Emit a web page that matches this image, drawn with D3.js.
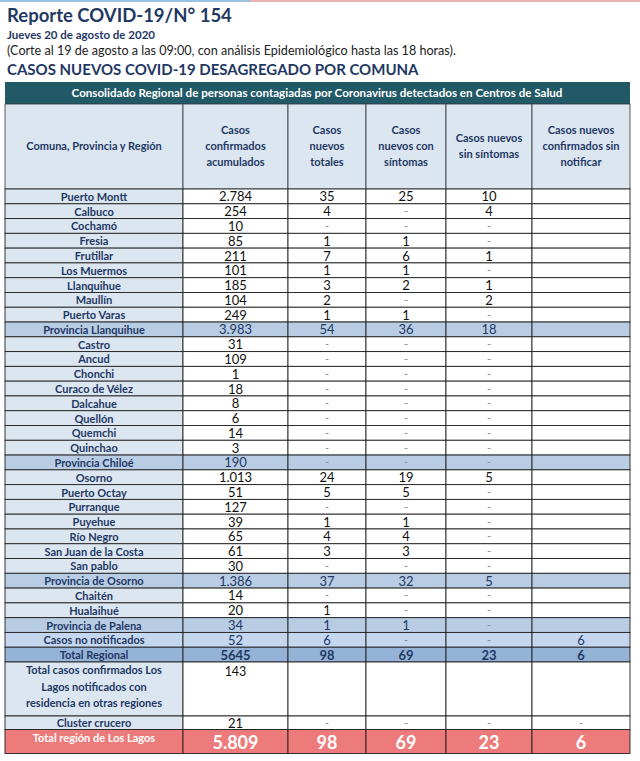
<!DOCTYPE html>
<html>
<head>
<meta charset="utf-8">
<script src="https://cdn.jsdelivr.net/npm/d3@7"></script>
<style>
  body { margin: 0; background: #fff; }
  svg text { font-family: Lato, "Noto Sans", sans-serif; }
</style>
</head>
<body>
<svg id="chart" width="640" height="761"></svg>
<script>
// data, null = "-", undefined = empty cell
var comunas = ["Puerto Montt","Calbuco","Cochamó","Fresia","Frutillar","Los Muermos","Llanquihue","Maullín","Puerto Varas","Provincia Llanquihue",
  "Castro","Ancud","Chonchi","Curaco de Vélez","Dalcahue","Quellón","Quemchi","Quinchao","Provincia Chiloé",
  "Osorno","Puerto Octay","Purranque","Puyehue","Río Negro","San Juan de la Costa","San pablo","Provincia de Osorno",
  "Chaitén","Hualaihué","Provincia de Palena","Casos no notificados","Total Regional"]
var tipo = ["c","c","c","c","c","c","c","c","c","p",
  "c","c","c","c","c","c","c","c","p",
  "c","c","c","c","c","c","c","p",
  "c","c","p","n","t"]
var acumulados = ["2.784","254","10","85","211","101","185","104","249","3.983",
  "31","109","1","18","8","6","14","3","190",
  "1.013","51","127","39","65","61","30","1.386",
  "14","20","34","52","5645"]
var nuevosTotales = [35,4,null,1,7,1,3,2,1,54, null,null,null,null,null,null,null,null,null,
  24,5,null,1,4,3,null,37, null,1,1,6,98]
var conSintomas = [25,null,null,1,6,1,2,null,1,36, null,null,null,null,null,null,null,null,null,
  19,5,null,1,4,3,null,32, null,null,1,null,69]
var sinSintomas = [10,4,null,null,1,null,1,2,null,18, null,null,null,null,null,null,null,null,null,
  5,null,null,null,null,null,null,5, null,null,null,null,23]
var sinNotificar = [undefined,undefined,undefined,undefined,undefined,undefined,undefined,undefined,undefined,undefined,
  undefined,undefined,undefined,undefined,undefined,undefined,undefined,undefined,undefined,
  undefined,undefined,undefined,undefined,undefined,undefined,undefined,undefined,
  undefined,undefined,undefined,6,6]

var headers = ["Comuna, Provincia y Región","Casos|confirmados|acumulados","Casos|nuevos|totales","Casos|nuevos con|síntomas","Casos nuevos|sin síntomas","Casos nuevos|confirmados sin|notificar"]
var otrasRegiones = {label: ["Total casos confirmados Los","Lagos  notificados con","residencia en otras regiones"], values: ["143", undefined, undefined, undefined, undefined]}
var cluster = {label: "Cluster crucero", values: ["21", null, null, null, null]}
var totalLagos = {label: "Total región de Los Lagos", values: ["5.809", 98, 69, 23, 6]}

var navy = "#1f3864"
var svg = d3.select("#chart")

// top stripe
svg.append("rect").attr("x",0).attr("y",0).attr("width",250).attr("height",2).attr("fill","#9dbfe0")
svg.append("rect").attr("x",250).attr("y",0).attr("width",390).attr("height",2).attr("fill","#eab3b3")

// titles
svg.append("text").attr("x",7).attr("y",22).attr("font-size",18.5).attr("font-weight","bold").attr("fill",navy).text("Reporte COVID-19/N° 154")
svg.append("text").attr("x",7).attr("y",39).attr("font-size",11.5).attr("font-weight","bold").attr("fill",navy).text("Jueves 20 de agosto de 2020")
svg.append("text").attr("x",7).attr("y",55).attr("font-size",12.6).attr("fill","#222").text("(Corte al 19 de agosto a las 09:00, con análisis Epidemiológico hasta las 18 horas).")
svg.append("text").attr("x",7).attr("y",75).attr("font-size",15).attr("font-weight","bold").attr("fill",navy).text("CASOS NUEVOS COVID-19 DESAGREGADO POR COMUNA")

// column layout
var colKeys = ["label","acum","tot","con","sin","notif"]
var colEdges = [5,183,288,366,446,532,630]
var x0 = d3.scaleOrdinal().domain(colKeys).range(colEdges.slice(0,6))
var x1 = d3.scaleOrdinal().domain(colKeys).range(colEdges.slice(1))
function cx(k) { return (x0(k) + x1(k)) / 2 }

var y = d3.scaleBand().domain(d3.range(comunas.length)).range([189,662])

var fills = {c: "#ffffff", p: "#b8cce4", n: "#c5d7ee", t: "#95b3d7"}
var labelFills = {c: "#dce6f1", p: "#b8cce4", n: "#c5d7ee", t: "#95b3d7"}

// band header
svg.append("rect").attr("x",5).attr("y",82).attr("width",625).attr("height",22).attr("fill","#215967")
svg.append("text").attr("x",317).attr("y",97).attr("text-anchor","middle").attr("font-size",11.6).attr("font-weight","bold")
  .attr("fill","#ffffff").text("Consolidado Regional de personas contagiadas por Coronavirus detectados en Centros de Salud")

// column headers
var hg = svg.append("g")
hg.selectAll("rect").data(colKeys).enter().append("rect")
  .attr("x", function(k){ return x0(k) }).attr("y",104)
  .attr("width", function(k){ return x1(k)-x0(k) }).attr("height",85)
  .attr("fill","#dce6f1").attr("stroke","#333").attr("stroke-width",0.8)
hg.selectAll("text").data(colKeys).enter().append("text")
  .attr("text-anchor","middle").attr("font-size",11).attr("font-weight","bold").attr("fill",navy)
  .each(function(k,i){
    var lines = headers[i].split("|")
    var t = d3.select(this)
    lines.forEach(function(l,j){
      t.append("tspan").attr("x",cx(k)).attr("y",150 + (j-(lines.length-1)/2)*16).text(l)
    })
  })

var columns = [acumulados, nuevosTotales, conSintomas, sinSintomas, sinNotificar]

function cellText(g, v, k, yy, color, bold, size) {
  if (v === undefined) return
  var isDash = v === null
  g.append("text").attr("x", cx(k)).attr("y", yy - (isDash ? 1 : 0)).attr("text-anchor","middle")
    .attr("font-size", isDash ? 11 : size).attr("font-weight", "bold")
    .attr("font-weight", bold ? "bold" : "normal")
    .attr("fill", isDash ? "#888" : color).text(isDash ? "-" : v)
}

// main rows
var rows = svg.append("g")
comunas.forEach(function(name,i){
  var g = rows.append("g")
  var t = tipo[i]
  var top = y(i), h = y.bandwidth()
  colKeys.forEach(function(k,j){
    g.append("rect").attr("x",x0(k)).attr("y",top).attr("width",x1(k)-x0(k)).attr("height",h)
      .attr("fill", j == 0 ? labelFills[t] : fills[t]).attr("stroke","#222").attr("stroke-width",0.9)
  })
  var ty = top + h/2 + 4.5
  g.append("text").attr("x",cx("label")).attr("y",ty).attr("text-anchor","middle").attr("font-size",11)
    .attr("font-weight","bold").attr("fill",navy).text(name)
  columns.forEach(function(col,j){
    var k = colKeys[j+1]
    var color = t == "c" ? "#111" : navy
    cellText(g, col[i], k, ty + 0.5, color, t == "t", 13)
  })
})

// otras regiones row
var top2 = 662, h2 = 54
var g2 = svg.append("g")
colKeys.forEach(function(k,j){
  g2.append("rect").attr("x",x0(k)).attr("y",top2).attr("width",x1(k)-x0(k)).attr("height",h2)
    .attr("fill", j == 0 ? "#dce6f1" : "#fff").attr("stroke","#222").attr("stroke-width",0.9)
})
otrasRegiones.label.forEach(function(l,j){
  g2.append("text").attr("x",cx("label")).attr("y",top2+12+j*16.5).attr("text-anchor","middle").attr("font-size",11)
    .attr("font-weight","bold").attr("fill",navy).text(l)
})
otrasRegiones.values.forEach(function(v,j){ cellText(g2, v, colKeys[j+1], top2+14, "#111", false, 12.5) })

// cluster row
var top3 = 716, h3 = 13.5
var g3 = svg.append("g")
colKeys.forEach(function(k,j){
  g3.append("rect").attr("x",x0(k)).attr("y",top3).attr("width",x1(k)-x0(k)).attr("height",h3)
    .attr("fill", j == 0 ? "#dce6f1" : "#fff").attr("stroke","#222").attr("stroke-width",0.9)
})
g3.append("text").attr("x",cx("label")).attr("y",top3+11).attr("text-anchor","middle").attr("font-size",11)
  .attr("font-weight","bold").attr("fill",navy).text(cluster.label)
cluster.values.forEach(function(v,j){ cellText(g3, v, colKeys[j+1], top3+11.5, "#111", false, 13) })

// total region row
var top4 = 729.5, h4 = 24
var g4 = svg.append("g")
colKeys.forEach(function(k){
  g4.append("rect").attr("x",x0(k)).attr("y",top4).attr("width",x1(k)-x0(k)).attr("height",h4)
    .attr("fill","#ee7b7b").attr("stroke","#222").attr("stroke-width",0.9)
})
g4.append("text").attr("x",cx("label")).attr("y",top4+12).attr("text-anchor","middle").attr("font-size",11)
  .attr("font-weight","bold").attr("fill","#fff").text(totalLagos.label)
totalLagos.values.forEach(function(v,j){
  g4.append("text").attr("x",cx(colKeys[j+1])).attr("y",top4+19).attr("text-anchor","middle")
    .attr("font-size",18).attr("font-weight","bold").attr("fill","#fff").text(v)
})
</script>
</body>
</html>
